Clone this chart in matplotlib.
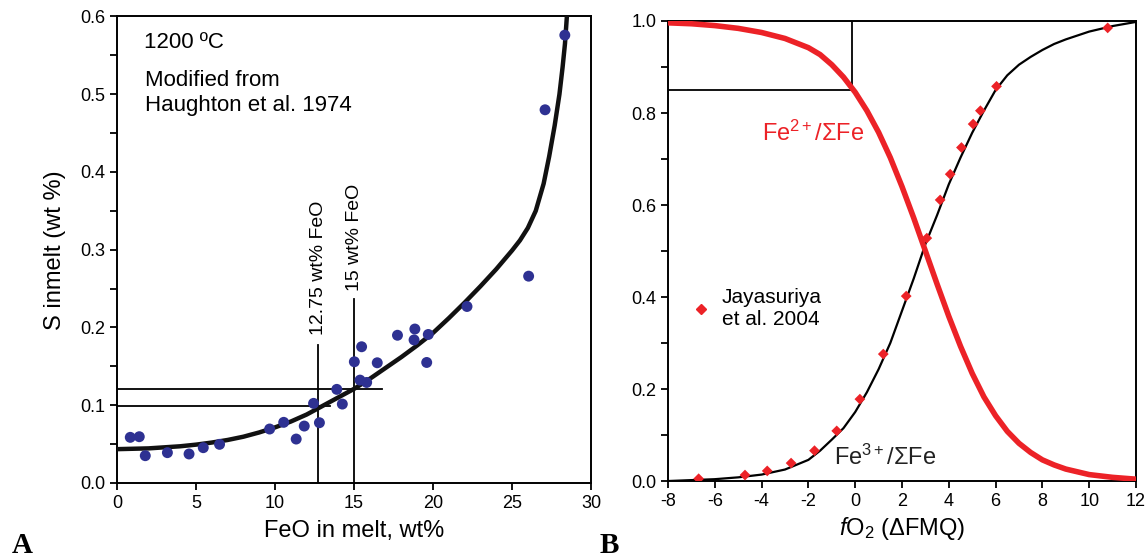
import numpy as np
import matplotlib
matplotlib.use('Agg')
import matplotlib.pyplot as plt
from matplotlib.ticker import MultipleLocator, FormatStrFormatter
from matplotlib.lines import Line2D

plt.rcParams.update({
    'font.family': ['Liberation Sans', 'DejaVu Sans'],
    'mathtext.fontset': 'custom',
    'mathtext.rm': 'Liberation Sans',
    'mathtext.it': 'Liberation Sans:italic',
    'mathtext.bf': 'Liberation Sans:bold',
    'axes.unicode_minus': False,
    'axes.linewidth': 1.4,
    'xtick.direction': 'out',
    'ytick.direction': 'out',
    'xtick.major.size': 5,
    'ytick.major.size': 5,
    'ytick.minor.size': 5,
    'xtick.major.width': 1.3,
    'ytick.major.width': 1.3,
    'ytick.minor.width': 1.3,
    'xtick.labelsize': 13,
    'ytick.labelsize': 13,
})

# ---- panel A: S in melt vs FeO (Haughton et al. 1974)
feo_pts = [0.84, 1.41, 1.79, 3.19, 4.56, 5.46, 6.49, 9.66, 10.55, 11.34, 11.85, 12.44,
           12.81, 13.91, 14.26, 15.02, 15.48, 15.38, 15.8, 16.47, 17.75, 18.85, 18.8,
           19.7, 19.6, 22.15, 26.05, 27.09, 28.34]
s_pts = [0.0587, 0.0595, 0.0351, 0.039, 0.0373, 0.0454, 0.0497, 0.0694, 0.078, 0.0565,
         0.0732, 0.1024, 0.0775, 0.1204, 0.1015, 0.1559, 0.1752, 0.1323, 0.1293, 0.1546,
         0.190, 0.198, 0.184, 0.191, 0.155, 0.227, 0.266, 0.480, 0.576]

# fitted curve
feo_fit = [0, 2, 4, 5, 6, 7, 8, 9, 10, 11, 12, 13, 14, 15, 16, 17, 18, 19, 20, 21, 22,
           23, 24, 25, 25.5, 26, 26.5, 27, 27.35, 27.7, 28.0, 28.2, 28.35, 28.47]
s_fit = [0.0435, 0.0445, 0.0472, 0.0493, 0.052, 0.0553, 0.0595, 0.065, 0.0715, 0.079,
         0.088, 0.099, 0.110, 0.121, 0.134, 0.148, 0.162, 0.177, 0.193, 0.212, 0.232,
         0.253, 0.275, 0.299, 0.312, 0.328, 0.350, 0.385, 0.420, 0.460, 0.500, 0.535,
         0.565, 0.600]

feo_marks = [12.75, 15.0]
s_marks = [0.099, 0.121]
vline_tops = [0.178, 0.237]
hline_ends = [13.5, 16.8]

# ---- panel B: Fe redox vs fO2
dfmq = [-8, -7, -6, -5, -4, -3, -2, -1.5, -1, -0.5, 0, 0.5, 1, 1.5, 2, 2.5, 3, 3.5, 4,
        4.5, 5, 5.5, 6, 6.5, 7, 7.5, 8, 8.5, 9, 10, 11, 12]
fe3 = [0.000, 0.002, 0.004, 0.008, 0.014, 0.025, 0.046, 0.066, 0.090, 0.115, 0.150,
       0.193, 0.243, 0.300, 0.370, 0.440, 0.515, 0.578, 0.645, 0.703, 0.757, 0.805,
       0.850, 0.882, 0.905, 0.922, 0.937, 0.950, 0.960, 0.977, 0.989, 0.998]
fe2 = [0.996, 0.994, 0.990, 0.984, 0.975, 0.962, 0.942, 0.927, 0.905, 0.878, 0.845,
       0.805, 0.758, 0.703, 0.640, 0.572, 0.500, 0.428, 0.358, 0.293, 0.234, 0.183,
       0.142, 0.108, 0.082, 0.062, 0.046, 0.035, 0.026, 0.014, 0.008, 0.004]

jaya_x = [-6.69, -4.71, -3.76, -2.74, -1.74, -0.79, 0.20, 1.20, 2.18, 3.06, 3.63, 4.06,
          4.54, 5.04, 5.35, 6.04, 10.79]
jaya_y = [0.005, 0.013, 0.022, 0.039, 0.066, 0.109, 0.178, 0.276, 0.402, 0.528, 0.611,
          0.667, 0.725, 0.776, 0.805, 0.858, 0.985]

box_x = -0.15
box_y = 0.85

BLUE = '#2e3192'
RED = '#ec2227'

fig = plt.figure(figsize=(11.47, 5.57), dpi=100)
axA = fig.add_axes([0.102, 0.1329, 0.4133, 0.8375])
axB = fig.add_axes([0.5824, 0.1364, 0.408, 0.8259])

# panel A
for xm, top in zip(feo_marks, vline_tops):
    axA.plot([xm, xm], [0, top], color='k', lw=1.3, zorder=2)
for ym, end in zip(s_marks, hline_ends):
    axA.plot([0, end], [ym, ym], color='k', lw=1.3, zorder=2)
axA.plot(feo_fit, s_fit, color='#111111', lw=3.2, solid_joinstyle='round', zorder=3)
axA.scatter(feo_pts, s_pts, s=62, color=BLUE, edgecolors='none', zorder=4)
axA.set_xlim(0, 30)
axA.set_ylim(0, 0.6)
axA.xaxis.set_major_locator(MultipleLocator(5))
axA.yaxis.set_major_locator(MultipleLocator(0.1))
axA.yaxis.set_minor_locator(MultipleLocator(0.05))
axA.yaxis.set_major_formatter(FormatStrFormatter('%.1f'))
axA.set_xlabel('FeO in melt, wt%', fontsize=17, labelpad=6)
axA.set_ylabel('S inmelt (wt %)', fontsize=17, labelpad=10)
axA.text(1.7, 0.567, '1200 ºC', fontsize=16, va='center', ha='left')
axA.text(1.8, 0.501, 'Modified from\nHaughton et al. 1974', fontsize=16, va='center',
         ha='left', linespacing=1.25)
axA.text(12.75, 0.19, '12.75 wt% FeO', rotation=90, fontsize=14, ha='center', va='bottom')
axA.text(15.0, 0.247, '15 wt% FeO', rotation=90, fontsize=14, ha='center', va='bottom')

# panel B
axB.plot([-8, box_x], [box_y, box_y], color='k', lw=1.3, zorder=2)
axB.plot([box_x, box_x], [box_y, 1.0], color='k', lw=1.3, zorder=2)
axB.plot(dfmq, fe3, color='k', lw=1.6, zorder=3)
axB.plot(dfmq, fe2, color=RED, lw=4, solid_joinstyle='round', zorder=4)
axB.scatter(jaya_x, jaya_y, marker='D', s=30, color=RED, edgecolors='none', zorder=5)
axB.set_xlim(-8, 12)
axB.set_ylim(0, 1.0)
axB.xaxis.set_major_locator(MultipleLocator(2))
axB.yaxis.set_major_locator(MultipleLocator(0.2))
axB.yaxis.set_minor_locator(MultipleLocator(0.1))
axB.yaxis.set_major_formatter(FormatStrFormatter('%.1f'))
axB.set_xlabel(r'$f$O$_2$ ($\Delta$FMQ)', fontsize=17, labelpad=4)
axB.text(-4.0, 0.756, r'Fe$^{2+}$/ΣFe', color=RED, fontsize=17, ha='left', va='center')
axB.text(-0.9, 0.052, r'Fe$^{3+}$/ΣFe', color='#222222', fontsize=17, ha='left', va='center')
handle = Line2D([], [], marker='D', ls='none', color=RED, markersize=5.5)
axB.legend([handle], ['Jayasuriya\net al. 2004'], loc='center left',
           bbox_to_anchor=(0.03, 0.375), frameon=False, fontsize=15,
           handlelength=0.8, handletextpad=0.6, borderpad=0)

fig.text(0.010, 0.008, 'A', fontsize=21, fontweight='bold', family='Liberation Serif')
fig.text(0.523, 0.008, 'B', fontsize=21, fontweight='bold', family='Liberation Serif')

fig.savefig('out.png', dpi=100)
